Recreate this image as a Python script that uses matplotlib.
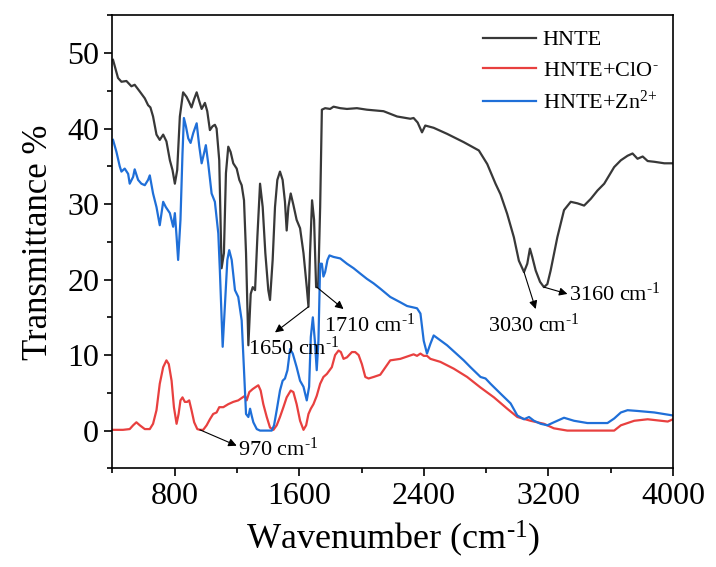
import numpy as np
import matplotlib.pyplot as plt
from matplotlib.ticker import MultipleLocator

plt.rcParams['font.family'] = ['Liberation Serif', 'DejaVu Serif']
plt.rcParams['mathtext.fontset'] = 'custom'
plt.rcParams['mathtext.rm'] = 'Liberation Serif'
plt.rcParams['mathtext.it'] = 'Liberation Serif:italic'

# HNTE
wn_hnte = [404, 436, 458, 490, 522, 543, 576, 608, 629, 644, 661, 683, 704, 726, 747,
           769, 786, 801, 816, 833, 854, 876, 893, 908, 923, 941, 958, 973, 994, 1009,
           1026, 1043, 1058, 1069, 1086, 1101, 1116, 1129, 1144, 1159, 1176, 1198, 1215,
           1230, 1245, 1258, 1273, 1288, 1301, 1316, 1331, 1348, 1365, 1382, 1401, 1412,
           1429, 1444, 1459, 1476, 1493, 1508, 1519, 1530, 1545, 1562, 1583, 1605, 1627,
           1648, 1659, 1669, 1682, 1695, 1708, 1721, 1734, 1745, 1766, 1798, 1820, 1863,
           1906, 1970, 2034, 2141, 2228, 2313, 2334, 2360, 2388, 2409, 2463, 2549, 2656,
           2753, 2807, 2860, 2892, 2935, 2978, 3010, 3043, 3064, 3081, 3096, 3118, 3146,
           3171, 3193, 3214, 3257, 3300, 3343, 3386, 3429, 3472, 3515, 3558, 3622, 3665,
           3708, 3740, 3772, 3805, 3837, 3880, 3944, 4000]
t_hnte = [49.1, 46.7, 46.2, 46.3, 45.6, 45.8, 44.9, 44.0, 43.1, 42.8, 41.6, 39.2, 38.5,
          39.2, 38.3, 35.8, 34.5, 32.7, 34.5, 41.6, 44.8, 44.2, 43.5, 42.8, 43.8, 44.8,
          43.6, 42.6, 43.4, 42.3, 39.8, 40.3, 40.5, 40.0, 35.8, 21.5, 23.5, 34.1, 37.6,
          36.9, 35.4, 34.7, 33.2, 32.5, 30.5, 23.5, 11.3, 18.1, 19.0, 18.6, 25.7, 32.7,
          29.6, 23.5, 18.6, 17.3, 22.6, 29.6, 33.2, 34.3, 33.2, 30.3, 26.5, 29.6, 31.4,
          29.9, 27.9, 26.8, 23.5, 19.0, 16.4, 23.5, 30.5, 27.9, 19.0, 19.0, 29.6, 42.5,
          42.7, 42.6, 42.9, 42.7, 42.6, 42.7, 42.5, 42.3, 41.6, 41.3, 41.4, 40.8, 39.5,
          40.4, 40.1, 39.3, 38.2, 37.1, 35.3, 32.7, 31.3, 28.7, 25.6, 22.5, 21.0, 22.1,
          24.1, 23.0, 21.2, 19.7, 19.0, 19.4, 21.2, 25.6, 29.2, 30.3, 30.1, 29.8, 30.7,
          31.8, 32.7, 34.9, 35.8, 36.4, 36.7, 36.0, 36.3, 35.7, 35.6, 35.4, 35.4]

# HNTE+ClO-
wn_clo = [404, 468, 511, 533, 554, 576, 608, 640, 661, 683, 704, 726, 747, 762, 780, 795,
          812, 825, 837, 850, 865, 880, 893, 908, 925, 945, 962, 983, 1005, 1026, 1047,
          1069, 1086, 1112, 1144, 1176, 1208, 1236, 1251, 1262, 1279, 1301, 1322, 1337,
          1352, 1369, 1391, 1412, 1434, 1455, 1476, 1498, 1519, 1545, 1562, 1583, 1605,
          1627, 1644, 1659, 1674, 1691, 1712, 1734, 1755, 1777, 1809, 1830, 1852, 1867,
          1884, 1906, 1938, 1959, 1981, 2002, 2024, 2045, 2077, 2120, 2184, 2249, 2334,
          2356, 2378, 2399, 2420, 2442, 2506, 2592, 2678, 2764, 2850, 2935, 3000, 3085,
          3171, 3235, 3321, 3622, 3665, 3751, 3837, 3923, 3966, 4000]
t_clo = [0.1, 0.1, 0.2, 0.7, 1.1, 0.7, 0.2, 0.2, 0.9, 2.7, 6.2, 8.4, 9.3, 8.8, 6.6, 3.1,
         0.9, 2.2, 4.0, 4.4, 3.8, 3.8, 4.0, 2.7, 1.1, 0.2, 0.1, 0.1, 0.7, 1.5, 2.2, 2.4,
         3.1, 3.1, 3.5, 3.8, 4.0, 4.4, 4.6, 4.0, 5.1, 5.5, 5.8, 6.0, 5.3, 3.5, 1.8, 0.4,
         0.1, 0.7, 1.8, 3.1, 4.4, 5.3, 5.1, 3.5, 1.3, 0.1, 0.7, 2.2, 2.9, 3.5, 4.6, 6.2,
         7.1, 7.5, 8.4, 10.0, 10.6, 10.4, 9.5, 9.7, 10.4, 10.4, 10.0, 8.8, 7.1, 6.9, 7.1,
         7.4, 9.3, 9.5, 10.1, 9.9, 10.2, 9.9, 9.9, 9.5, 9.1, 8.2, 7.1, 5.7, 4.4, 2.9, 1.8,
         1.3, 0.9, 0.3, 0.0, 0.0, 0.7, 1.3, 1.5, 1.3, 1.2, 1.5]

# HNTE+Zn2+
wn_zn = [404, 426, 447, 458, 479, 501, 511, 533, 543, 565, 586, 608, 629, 640, 661, 683,
         704, 726, 743, 769, 790, 801, 812, 822, 837, 850, 859, 872, 887, 902, 919, 941,
         958, 973, 988, 1000, 1015, 1037, 1058, 1080, 1090, 1108, 1123, 1138, 1150, 1166,
         1187, 1208, 1230, 1245, 1258, 1273, 1284, 1294, 1305, 1327, 1348, 1423, 1438,
         1455, 1476, 1493, 1508, 1524, 1541, 1558, 1583, 1605, 1627, 1648, 1663, 1674,
         1687, 1700, 1712, 1723, 1734, 1745, 1755, 1766, 1781, 1794, 1820, 1863, 1906,
         1949, 1991, 2034, 2077, 2120, 2184, 2248, 2292, 2356, 2378, 2399, 2420, 2442,
         2463, 2549, 2656, 2699, 2764, 2796, 2828, 2892, 2957, 3000, 3043, 3075, 3107,
         3150, 3193, 3235, 3300, 3364, 3450, 3579, 3622, 3665, 3708, 3772, 3880, 4000]
t_zn = [38.5, 36.9, 35.0, 34.3, 34.7, 34.0, 32.7, 33.6, 34.6, 33.2, 32.7, 32.5, 33.2,
        33.8, 31.4, 29.6, 27.2, 30.3, 29.6, 28.8, 27.0, 28.8, 25.7, 22.6, 27.9, 36.7,
        41.4, 40.3, 38.7, 38.1, 39.4, 40.7, 37.6, 35.4, 36.7, 37.8, 35.4, 31.4, 30.3,
        26.1, 21.2, 11.1, 16.8, 22.6, 23.9, 22.6, 18.6, 17.7, 14.6, 8.0, 2.2, 1.8, 2.9,
        2.0, 1.1, 0.2, 0.0, 0.0, 0.7, 2.7, 5.3, 6.6, 6.9, 8.0, 10.8, 10.2, 8.4, 6.6, 5.8,
        4.0, 5.8, 12.4, 15.0, 11.9, 8.0, 11.9, 22.1, 22.1, 20.4, 21.0, 22.6, 23.2, 23.0,
        22.8, 22.1, 21.5, 20.8, 20.1, 19.5, 18.8, 17.7, 17.0, 16.5, 16.2, 15.5, 11.9,
        10.2, 11.5, 12.6, 11.3, 9.3, 8.4, 7.1, 6.9, 6.2, 4.9, 3.6, 2.0, 1.5, 1.8, 1.3,
        0.9, 0.7, 1.1, 1.7, 1.3, 1.0, 1.0, 1.6, 2.4, 2.7, 2.6, 2.4, 2.0]

# peak labels: text, curve point, arrow head, text position
peak_labels = ['1650 cm$^{\\text{-1}}$', '1710 cm$^{\\text{-1}}$',
               '970 cm$^{\\text{-1}}$', '3030 cm$^{\\text{-1}}$',
               '3160 cm$^{\\text{-1}}$']
peak_from = [(1659, 16.4), (1712, 19.0), (962, 0.1), (3043, 21.0), (3171, 19.0)]
peak_to = [(1444, 13.0), (1884, 16.1), (1198, -2.0), (3118, 16.1), (3322, 18.1)]
peak_text = [(1271, 10.9), (1760, 13.9), (1206, -2.4), (2811, 13.9), (3332, 18.1)]

fig, ax = plt.subplots(figsize=(7.16, 5.67), dpi=100)
fig.subplots_adjust(left=0.157, right=0.940, bottom=0.174, top=0.973)

ax.plot(wn_hnte, t_hnte, color='#383838', lw=1.6, label='HNTE')
ax.plot(wn_clo, t_clo, color='#e8403f', lw=1.6, label='HNTE+ClO$^{\\text{-}}$')
ax.plot(wn_zn, t_zn, color='#1f6fd8', lw=1.6, label='HNTE+Zn$^{\\text{2+}}$')

for lab, p0, p1, pt in zip(peak_labels, peak_from, peak_to, peak_text):
    ax.annotate('', xy=p1, xytext=p0,
                arrowprops=dict(arrowstyle='-|>', color='black', lw=0.8,
                                mutation_scale=12, shrinkA=0, shrinkB=0))
    ax.text(pt[0], pt[1], lab, fontsize=16, ha='left', va='center')

ax.set_xlim(400, 4000)
ax.set_ylim(-5, 55)
ax.xaxis.set_major_locator(MultipleLocator(800))
ax.xaxis.set_minor_locator(MultipleLocator(400))
ax.yaxis.set_major_locator(MultipleLocator(10))
ax.yaxis.set_minor_locator(MultipleLocator(5))
ax.tick_params(which='major', direction='out', length=6, width=1.2, labelsize=23)
ax.tick_params(which='minor', direction='out', length=3.5, width=1.2)
for s in ax.spines.values():
    s.set_linewidth(1.2)

ax.set_xlabel('Wavenumber (cm$^{\\text{-1}}$)', fontsize=26, labelpad=6)
ax.set_ylabel('Transmittance %', fontsize=25, labelpad=9)

ax.legend(loc='upper right', frameon=False, fontsize=16, handlelength=2.4,
          handletextpad=0.3, borderaxespad=0.25, labelspacing=0.45)

plt.savefig('out.png', dpi=100)
